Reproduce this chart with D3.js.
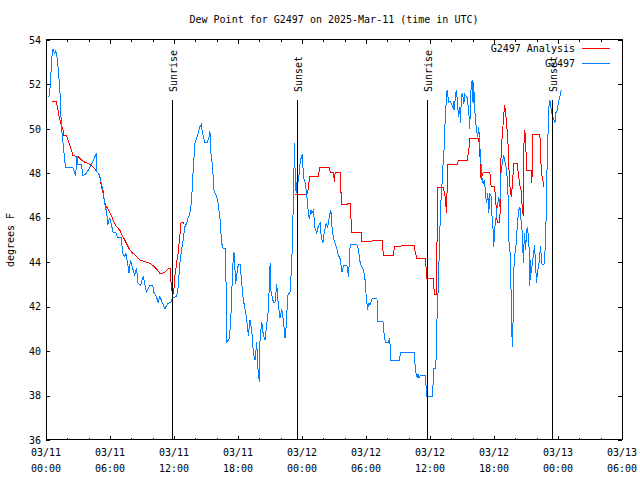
<!DOCTYPE html>
<html><head><meta charset="utf-8">
<script src="https://cdn.jsdelivr.net/npm/d3@7"></script>
<style>
body{margin:0;background:#fff;}
svg text{font-family:"DejaVu Sans Mono",monospace;font-size:10px;fill:#000;}
svg path, svg line, svg rect{shape-rendering:crispEdges;}
</style></head>
<body><svg id="c" width="640" height="480"></svg>
<script>
// Hours since 2025-03-11 00:00 UTC and dew point (°F)
const obsHours = [0.27,0.43,0.50,0.59,0.65,0.71,0.81,0.90,1.02,1.18,1.34,1.44,1.59,1.75,1.84,2.53,2.78,2.90,3.00,3.32,3.47,3.79,4.03,4.41,4.73,4.78,5.04,5.19,5.35,5.50,5.66,5.81,5.97,6.13,6.28,6.54,6.70,7.07,7.17,7.38,7.48,7.60,7.79,7.92,8.11,8.32,8.48,8.63,8.86,9.10,9.26,9.42,9.73,10.01,10.11,10.36,10.51,10.67,10.93,11.14,11.30,11.45,11.70,11.86,12.24,12.39,12.55,12.71,12.86,13.02,13.18,13.33,13.49,13.65,13.80,13.96,14.12,14.27,14.43,14.55,14.68,14.90,15.12,15.30,15.37,15.46,15.62,15.74,16.00,16.15,16.31,16.47,16.62,16.81,16.87,16.91,17.18,17.31,17.41,17.50,17.62,17.69,17.78,17.88,18.03,18.19,18.35,18.50,18.66,18.82,18.97,19.13,19.29,19.44,19.60,19.76,19.85,19.94,20.00,20.07,20.23,20.38,20.54,20.69,20.85,21.01,21.10,21.32,21.47,21.63,21.78,21.94,22.10,22.25,22.41,22.57,22.63,22.88,23.04,23.14,23.19,23.29,23.35,23.45,23.57,23.66,23.82,23.92,24.04,24.13,24.29,24.45,24.60,24.70,24.83,24.92,25.07,25.23,25.39,25.54,25.70,25.80,25.96,26.08,26.27,26.39,26.58,26.71,26.80,26.95,27.11,27.27,27.42,27.58,27.74,27.89,28.21,28.36,28.52,29.15,29.30,29.46,29.62,29.77,29.93,30.02,30.15,30.24,30.40,30.56,31.03,31.12,31.59,31.65,31.81,32.12,32.21,32.28,32.34,33.15,33.22,34.53,34.63,34.79,34.88,34.98,35.10,35.57,35.63,35.69,36.25,36.29,36.35,36.53,36.57,36.60,36.72,36.82,36.91,36.97,37.13,37.23,37.28,37.35,37.44,37.54,37.60,37.75,37.85,37.98,38.17,38.22,38.29,38.38,38.48,38.60,38.69,38.79,38.85,38.92,39.01,39.11,39.16,39.26,39.48,39.63,39.73,39.79,39.86,39.95,40.04,40.10,40.17,40.26,40.35,40.48,40.57,40.67,40.73,40.80,40.89,40.98,41.11,41.20,41.30,41.42,41.51,41.61,41.74,41.83,41.92,41.98,42.05,42.17,42.30,42.45,42.55,42.61,42.77,42.92,43.01,43.18,43.30,43.39,43.55,43.62,43.71,43.77,43.80,43.86,43.96,44.12,44.18,44.33,44.42,44.49,44.58,44.68,44.74,44.80,44.87,44.96,45.05,45.12,45.27,45.36,45.43,45.49,45.68,45.80,45.90,45.99,46.06,46.21,46.37,46.46,46.52,46.68,46.77,46.84,46.93,47.00,47.09,47.15,47.24,47.37,47.47,47.62,47.71,47.78,47.94,48.03,48.18,48.31];
const obsDewF = [51.45,52.06,52.95,53.4,53.6,53.5,53.4,53.5,53.3,52.5,51.45,50.1,49.4,48.6,48.25,48.25,47.9,48.8,48.4,48.4,47.9,48.0,48.2,48.55,48.9,48.07,47.9,47.55,47.25,46.65,46.3,45.7,46.0,45.7,45.35,45.35,45.1,45.1,44.4,44.25,44.4,44.1,43.5,44.1,43.75,43.4,43.75,43.05,42.95,43.35,43.05,42.65,42.95,42.95,42.65,42.45,42.2,42.45,42.15,41.9,42.05,42.15,42.2,42.4,42.45,42.9,43.95,44.55,45.0,45.6,45.75,46.0,46.2,46.8,48.15,49.35,49.6,49.8,50.1,50.2,49.8,49.4,49.4,49.65,49.9,48.9,48.3,47.25,46.95,46.6,45.95,44.85,44.6,44.6,43.6,40.4,40.55,41.25,42.5,43.8,44.45,44.0,43.0,43.4,43.9,43.9,43.05,42.3,41.9,41.4,40.7,41.4,40.95,39.9,39.6,40.4,39.3,38.9,38.6,40.65,41.3,40.7,40.5,41.2,41.85,43.95,42.65,42.2,42.2,43.0,42.1,41.5,41.9,41.4,40.6,41.4,42.5,42.65,43.9,45.9,46.5,49.35,48.15,47.1,47.8,47.6,48.45,48.7,48.85,47.85,47.6,47.0,46.2,45.95,46.35,46.2,46.35,45.5,45.3,45.65,45.75,45.15,44.85,45.35,45.75,45.55,46.1,46.35,45.65,45.05,44.85,44.6,44.3,44.15,43.55,43.85,43.85,43.35,44.8,44.8,44.55,43.95,43.8,43.65,43.15,42.45,41.85,42.15,42.1,42.35,42.35,41.35,41.35,40.95,40.4,40.4,40.6,40.1,39.6,39.6,39.95,39.95,39.15,38.8,38.95,38.8,38.9,38.9,38.45,37.95,37.95,38.55,39.2,39.2,39.7,40.8,42.15,43.65,45.0,46.35,47.55,48.45,48.9,49.2,50.85,51.2,51.75,51.2,51.25,51.15,50.95,51.25,50.85,51.5,51.75,51.0,50.55,51.0,50.25,51.15,51.6,51.4,51.1,51.55,51.4,50.8,50.0,51.25,51.9,52.2,51.15,52.1,51.0,50.5,49.95,49.65,50.1,49.2,48.8,48.3,47.7,47.55,47.7,47.1,46.65,47.1,46.2,47.1,46.95,45.9,45.45,44.7,45.45,45.9,46.5,46.95,46.5,47.85,48.45,48.8,48.55,48.15,47.4,45.0,44.25,42.05,40.2,40.7,42.05,43.65,44.4,45.0,45.75,46.35,46.5,46.2,45.6,45.3,43.95,44.7,45.3,44.55,45.3,45.6,45.0,42.95,44.1,43.5,44.3,44.75,43.9,43.05,43.5,43.9,44.75,43.95,43.9,43.9,44.3,45.4,46.5,49.35,49.95,51.0,51.3,50.85,50.6,50.4,50.25,50.7,50.85,51.15,51.45,51.75];

const anaHours = [0.59,0.97,1.06,1.18,1.28,1.37,1.49,1.59,1.68,1.91,2.06,2.22,2.38,2.53,3.00,3.32,3.63,3.94,4.26,4.57,4.88,5.04,5.19,5.35,5.50,5.66,5.81,6.13,6.28,6.60,6.91,7.22,7.54,7.85,8.16,8.48,8.79,9.42,9.73,10.04,10.36,10.67,10.93,11.14,11.45,11.68,11.70,11.77,11.92,12.02,12.08,12.24,12.39,12.48,12.55,12.64,12.74,12.95,18.00,23.30,24.45,24.60,24.70,25.54,25.64,26.58,26.64,26.95,27.04,27.11,27.58,27.65,27.68,28.21,28.36,28.52,28.59,28.64,29.55,29.62,30.56,30.65,31.50,31.56,31.65,32.59,32.65,33.69,34.53,34.63,34.79,35.57,35.63,35.72,36.32,36.41,36.60,36.66,36.74,37.28,37.35,37.44,37.54,37.60,37.66,38.54,38.69,39.48,39.63,39.73,40.57,40.67,40.73,40.80,40.89,40.98,41.61,41.67,41.74,42.05,42.14,42.30,42.55,42.61,42.68,42.77,42.92,43.01,43.08,43.18,43.30,43.39,43.49,43.62,43.71,43.86,44.18,44.27,44.42,44.55,44.64,44.74,44.80,44.87,44.96,45.05,45.49,45.52,45.59,45.64,46.30,46.37,46.44,46.58,46.68];
const anaDewF = [51.25,51.25,51.0,50.7,50.45,50.3,50.1,49.95,49.7,49.7,49.5,49.25,49.05,48.8,48.75,48.6,48.5,48.45,48.35,48.2,48.0,47.85,47.45,47.1,46.7,46.5,46.4,46.1,45.9,45.6,45.45,45.15,44.85,44.55,44.4,44.25,44.1,44.0,43.95,43.85,43.7,43.5,43.5,43.55,43.7,43.7,43.25,42.75,42.6,42.9,43.35,43.95,44.4,44.85,45.2,45.75,45.8,45.75,null,47.05,47.05,47.3,47.85,47.85,48.25,48.25,48.05,48.05,47.6,48.05,48.05,47.35,46.6,46.6,46.65,46.65,46.0,45.35,45.35,44.95,44.95,45.0,45.0,44.6,44.3,44.3,44.7,44.75,44.75,44.4,44.15,44.15,43.75,43.25,43.25,42.55,42.55,45.0,47.35,47.35,47.05,46.95,46.2,47.2,48.4,48.4,48.6,48.6,49.0,49.55,49.55,49.05,48.05,47.7,47.9,48.05,48.05,47.7,47.4,47.4,46.95,45.8,45.8,47.4,49.3,49.6,50.7,51.05,50.75,50.25,49.5,48.3,47.4,46.95,47.4,48.45,48.45,48.0,47.45,47.2,46.5,46.1,49.2,49.95,49.65,48.15,48.15,47.55,48.0,49.75,49.75,48.9,48.0,47.7,47.4];

const sunHours = [11.77, 23.51, 35.72, 47.47];
const sunLabels = ["Sunrise","Sunset","Sunrise","Sunset"];
const yTicks = [36,38,40,42,44,46,48,50,52,54];
const seriesNames = ["G2497 Analysis","G2497"];
const seriesColors = ["#ff0000","#0080ff"];
const title = "Dew Point for G2497 on 2025-Mar-11 (time in UTC)";
const yTitle = "degrees F";

const t0 = Date.UTC(2025,2,11,0,0);
const toDate = h => new Date(t0 + h*3600e3);
const L=46, R=622, T=40, B=440;
const x = d3.scaleUtc().domain([toDate(0), toDate(54)]).range([L,R]);
const y = d3.scaleLinear().domain([36,54]).range([B,T]);
const svg = d3.select("#c");

// data lines
const line = d3.line().defined(d=>d.v!=null).x(d=>x(d.t)).y(d=>y(d.v));
const ana = anaHours.map((h,i)=>({t:toDate(h), v:anaDewF[i]}));
const obs = obsHours.map((h,i)=>({t:toDate(h), v:obsDewF[i]}));
svg.append("path").datum(ana).attr("d",line).attr("fill","none").attr("stroke",seriesColors[0]).attr("stroke-width",1);
svg.append("path").datum(obs).attr("d",line).attr("fill","none").attr("stroke",seriesColors[1]).attr("stroke-width",1);

// sunrise/sunset lines
sunHours.forEach((h,i)=>{
  const xx = Math.round(x(toDate(h)))+0.5;
  svg.append("line").attr("x1",xx).attr("x2",xx).attr("y1",100).attr("y2",B).attr("stroke","#000").attr("stroke-width",1);
  svg.append("text").attr("transform",`translate(${xx+0.5},92) rotate(-90)`).attr("dy","0.35em").text(sunLabels[i]);
});

// axes
const ticks6 = d3.utcHour.every(6).range(toDate(0), toDate(54.01));
const ticks2 = d3.utcHour.every(2).range(toDate(0), toDate(54.01));
const mkX = (gen, size, yPos) => svg.append("g").attr("transform",`translate(0,${yPos})`)
  .call(gen(x).tickValues(size===2?ticks2:ticks6).tickSize(-size).tickFormat("")).call(g=>g.select(".domain").remove());
mkX(d3.axisBottom,2,B); mkX(d3.axisBottom,4,B);
mkX(d3.axisTop,2,T); mkX(d3.axisTop,4,T);
svg.append("g").attr("transform",`translate(${L},0)`).call(d3.axisLeft(y).tickValues(yTicks).tickSize(-4).tickPadding(5).tickFormat(d3.format("d"))).call(g=>g.select(".domain").remove());
svg.append("g").attr("transform",`translate(${R},0)`).call(d3.axisRight(y).tickValues(yTicks).tickSize(-4).tickFormat("")).call(g=>g.select(".domain").remove());
svg.selectAll(".tick line").attr("stroke","#000");
svg.selectAll(".tick text").style("font-family",'"DejaVu Sans Mono",monospace').style("font-size","10px").attr("fill","#000");

// x labels two lines
const fmt1 = d3.utcFormat("%m/%d"), fmt2 = d3.utcFormat("%H:%M");
ticks6.forEach(d=>{
  const t = svg.append("text").attr("x",x(d)).attr("text-anchor","middle");
  t.append("tspan").attr("x",x(d)).attr("y",456).text(fmt1(d));
  t.append("tspan").attr("x",x(d)).attr("y",472).text(fmt2(d));
});

// border
svg.append("rect").attr("x",L+0.5).attr("y",T-0.5).attr("width",R-L).attr("height",B-T).attr("fill","none").attr("stroke","#000");

// titles
svg.append("text").attr("x",(L+R)/2).attr("y",23).attr("text-anchor","middle").text(title);
svg.append("text").attr("transform","translate(10,240) rotate(-90)").attr("text-anchor","middle").attr("dy","0.35em").text(yTitle);

// legend
seriesNames.forEach((n,i)=>{
  const yy = 48 + i*15;
  svg.append("text").attr("x",575).attr("y",yy).attr("dy","0.35em").attr("text-anchor","end").text(n);
  svg.append("line").attr("x1",582).attr("x2",610).attr("y1",yy+0.5).attr("y2",yy+0.5).attr("stroke",seriesColors[i]);
});
</script></body></html>
